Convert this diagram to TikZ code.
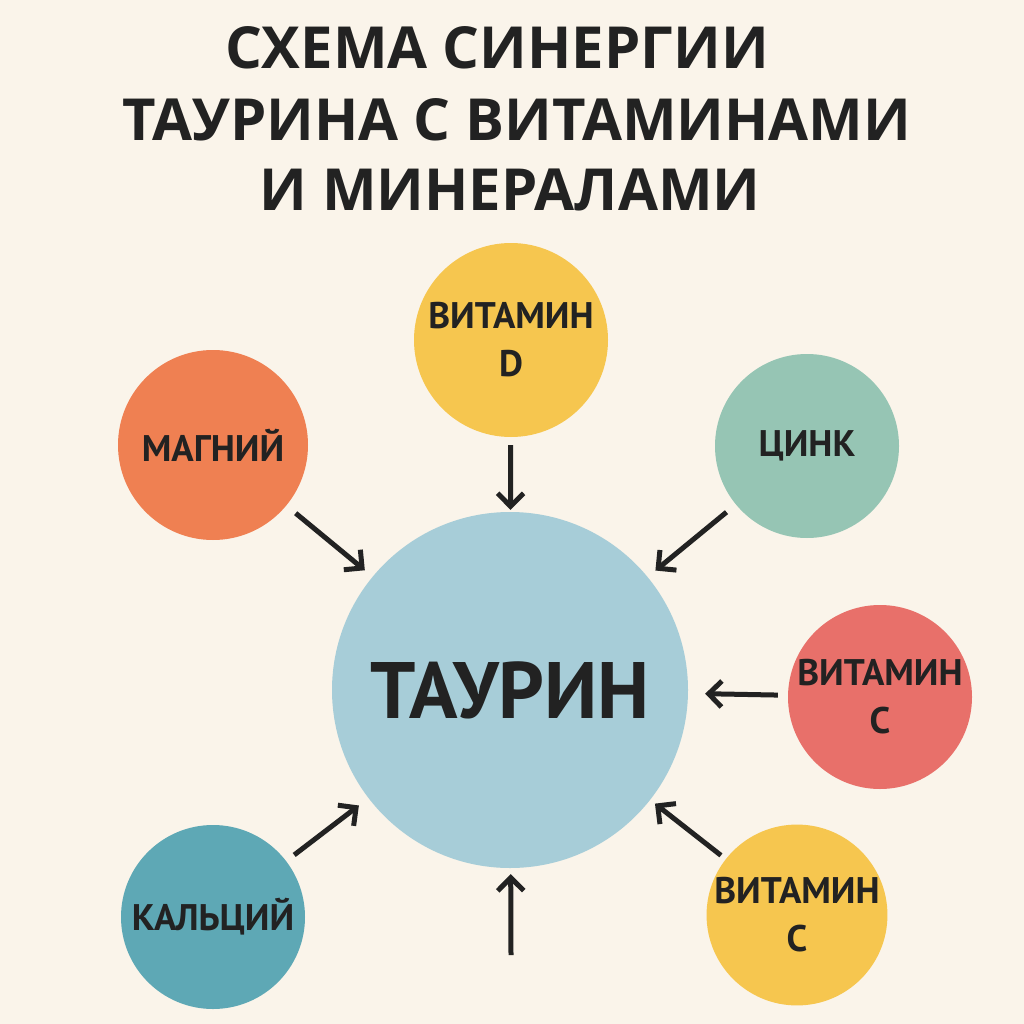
\documentclass[tikz,border=0pt]{standalone}
\usepackage{fontspec}
\setmainfont{PT Sans}
\newfontfamily\titlefont{Open Sans}
\usetikzlibrary{arrows.meta}
\definecolor{bgcream}{HTML}{FAF4EA}
\definecolor{taurblue}{HTML}{A7CDD8}
\definecolor{sunyellow}{HTML}{F6C64F}
\definecolor{magorange}{HTML}{EF8052}
\definecolor{zincgreen}{HTML}{96C5B4}
\definecolor{vitred}{HTML}{E8706A}
\definecolor{calcteal}{HTML}{5EA8B5}
\definecolor{inkdark}{HTML}{222222}
\tikzset{
  ball/.style={circle,inner sep=0pt,align=center,text=inkdark,
    font=\fontsize{37}{48}\selectfont\bfseries},
  arr/.style={line width=5pt,draw=inkdark,-{Straight Barb[length=13pt,width=26pt,line width=5pt]}}
}
\begin{document}
\begin{tikzpicture}[x=1pt,y=-1pt]
\fill[bgcream] (0,0) rectangle (1024,1024);
\useasboundingbox (0,0) rectangle (1024,1024);

%%% TITLE %%%
\node[font=\titlefont\fontsize{58}{62}\selectfont\bfseries,text=inkdark] (t1) at (497,48) {СХЕМА СИНЕРГИИ};
\node[font=\titlefont\fontsize{58}{62}\selectfont\bfseries,text=inkdark] (t2) at (517,120) {ТАУРИНА С ВИТАМИНАМИ};
\node[font=\titlefont\fontsize{58}{62}\selectfont\bfseries,text=inkdark] (t3) at (510,190) {И МИНЕРАЛАМИ};

%%% CIRCLES %%%
\node[ball,fill=taurblue,minimum size=356pt,font=\fontsize{80}{84}\selectfont\bfseries] (taur) at (510,690) {ТАУРИН};
\node[ball,fill=sunyellow,minimum size=194pt] (vd) at (511,340) {ВИТАМИН\\D};
\node[ball,fill=magorange,minimum size=190pt] (mg) at (213,445) {МАГНИЙ};
\node[ball,fill=zincgreen,minimum size=184pt] (zn) at (807,446) {ЦИНК};
\node[ball,fill=vitred,minimum size=184pt] (vc) at (880,697) {ВИТАМИН\\С};
\node[ball,fill=sunyellow,minimum size=170pt] (vc2) at (797,915) {ВИТАМИН\\С};
\node[ball,fill=calcteal,minimum size=184pt] (ca) at (213,917) {КАЛЬЦИЙ};
\coordinate (bot) at (511,955);

%%% ARROWS %%%
\draw[arr,shorten <=8pt,shorten >=2pt] (vd) -- (taur);
\draw[arr,shorten <=12pt,shorten >=10pt] (mg) -- (taur);
\draw[arr,shorten <=12pt,shorten >=10pt] (zn) -- (taur);
\draw[arr,shorten <=10pt,shorten >=17pt] (vc) -- (taur);
\draw[arr,shorten <=6pt,shorten >=6pt] (vc2) -- (taur);
\draw[arr,shorten <=10pt,shorten >=12pt] (ca) -- (taur);
\draw[arr,shorten >=6pt] (bot) -- (taur);
\end{tikzpicture}
\end{document}
